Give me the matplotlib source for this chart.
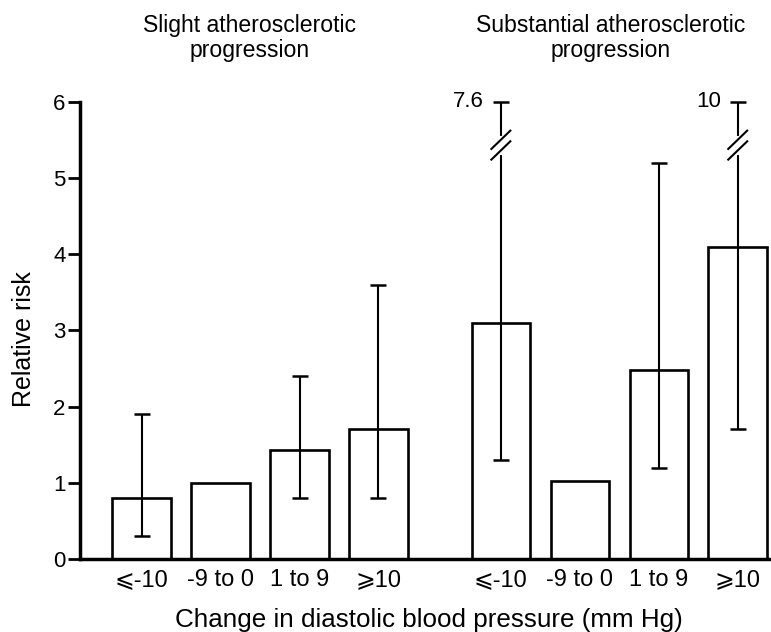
import numpy as np
import matplotlib.pyplot as plt

plt.rcParams['font.family'] = ['Liberation Sans', 'DejaVu Sans']

# data
groups = ["Slight atherosclerotic\nprogression", "Substantial atherosclerotic\nprogression"]
categories = ["\u2a7d-10", "-9 to 0", "1 to 9", "\u2a7e10"]
rr_slight = [0.8, 1.0, 1.43, 1.71]
lo_slight = [0.3, None, 0.8, 0.8]
hi_slight = [1.9, None, 2.4, 3.6]
rr_subst = [3.1, 1.02, 2.48, 4.1]
lo_subst = [1.3, None, 1.2, 1.7]
hi_subst = [7.6, None, 5.2, 10.0]

ymax = 6
break_at = 5.43
group_gap = 1.55
bar_w = 0.74

fig = plt.figure(figsize=(7.71, 6.32), dpi=100)
ax = fig.add_axes([0.1038, 0.1155, 0.895, 0.7236])

n = len(categories)
x1 = np.arange(n)
x2 = np.arange(n) + n - 1 + group_gap
xs = np.concatenate([x1, x2])
rr = rr_slight + rr_subst
lo = lo_slight + lo_subst
hi = hi_slight + hi_subst

ax.bar(xs, rr, width=bar_w, color='white', edgecolor='black', linewidth=1.9, zorder=2)

for x, v, l, h in zip(xs, rr, lo, hi):
    if l is None:
        continue
    top = min(h, ymax)
    ax.errorbar([x], [v], yerr=[[v - l], [top - v]], fmt='none', ecolor='black',
                elinewidth=1.5, capsize=6, capthick=1.8, zorder=3, clip_on=False)
    if h > ymax:
        # broken error bar: white gap plus two slashes
        ax.plot([x, x], [break_at - 0.1, break_at + 0.1], color='white', lw=3, zorder=4)
        for off in (-0.07, 0.07):
            ax.plot([x - 0.12, x + 0.12], [break_at + off - 0.12, break_at + off + 0.12],
                    color='black', lw=1.5, zorder=5, clip_on=False)
        ax.annotate(f"{h:g}", xy=(x, ymax), xytext=(-12, 0), textcoords='offset points',
                    ha='right', va='center', fontsize=16)

ax.set_ylim(0, ymax)
ax.set_xlim(-0.78, 7.96)
ax.set_yticks(range(0, 7))
ax.set_xticks(xs)
ax.set_xticklabels(categories * 2, fontsize=17)
ax.tick_params(axis='x', length=0, pad=7)
ax.tick_params(axis='y', labelsize=16, length=8.5, width=2, direction='out', pad=2)

for s in ['top', 'right']:
    ax.spines[s].set_visible(False)
ax.spines['left'].set_linewidth(2.5)
ax.spines['bottom'].set_linewidth(2.5)

fig.text(0.031, 0.464, "Relative risk", rotation=90, ha='center', va='center', fontsize=18)
fig.text(0.556, 0.019, "Change in diastolic blood pressure (mm Hg)", ha='center', va='center', fontsize=18.7)
fig.text(0.324, 0.94, groups[0], ha='center', va='center', fontsize=16.6, linespacing=1.15)
fig.text(0.792, 0.94, groups[1], ha='center', va='center', fontsize=16.6, linespacing=1.15)

fig.savefig("out.png", dpi=100)
